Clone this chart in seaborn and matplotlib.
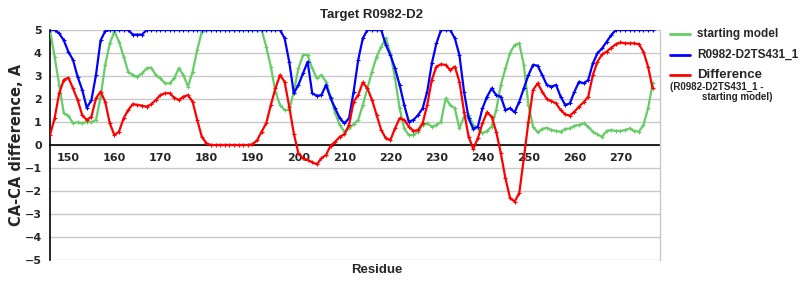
import numpy as np
import pandas as pd
import matplotlib
matplotlib.use("Agg")
import matplotlib.pyplot as plt
import seaborn as sns
from matplotlib.lines import Line2D

residues = list(range(146, 278))

starting_model = [
    5.0, 3.84, 2.6, 1.38, 1.28, 0.94, 0.99, 0.94, 1.01, 0.99,   # 146-155
    1.09, 2.1, 3.48, 4.42, 4.93, 4.5, 3.84, 3.19, 3.04, 2.97,   # 156-165
    3.12, 3.33, 3.36, 3.04, 2.9, 2.68, 2.68, 2.9, 3.33, 3.04,   # 166-175
    2.54, 3.19, 4.13, 4.93, 5.0, 5.0, 5.0, 5.0, 5.0, 5.0,       # 176-185
    5.0, 5.0, 5.0, 5.0, 5.0, 5.0, 5.0, 4.28, 3.41, 2.32,        # 186-195
    1.74, 1.52, 1.52, 2.32, 3.33, 3.91, 3.91, 3.33, 2.9, 3.04,  # 196-205
    2.75, 2.1, 1.38, 0.87, 0.58, 0.72, 0.9, 1.09, 1.74, 2.46,   # 206-215
    3.19, 3.84, 4.28, 4.64, 3.99, 2.9, 1.59, 0.72, 0.43, 0.43,  # 216-225
    0.58, 0.87, 0.94, 0.8, 0.87, 1.01, 2.03, 1.74, 1.59, 0.72,  # 226-235
    1.23, 1.3, 0.87, 0.72, 0.51, 0.61, 0.8, 1.52, 2.61, 3.33,   # 236-245
    4.0, 4.35, 4.42, 3.48, 1.74, 0.8, 0.55, 0.7, 0.75, 0.65,    # 246-255
    0.61, 0.58, 0.7, 0.72, 0.84, 0.87, 0.94, 0.8, 0.58, 0.46,   # 256-265
    0.36, 0.61, 0.65, 0.61, 0.61, 0.65, 0.72, 0.61, 0.58, 0.87, # 266-275
    1.59, 2.68,                                                 # 276-277
]

model_ts431 = [
    5.0, 5.0, 4.85, 4.55, 4.05, 3.7, 2.97, 2.4, 1.62, 1.95,     # 146-155
    3.05, 4.55, 4.95, 5.0, 5.0, 5.0, 5.0, 5.0, 4.8, 4.8,        # 156-165
    4.8, 5.0, 5.0, 5.0, 5.0, 5.0, 5.0, 5.0, 5.0, 5.0,           # 166-175
    5.0, 5.0, 5.0, 5.0, 5.0, 5.0, 5.0, 5.0, 5.0, 5.0,           # 176-185
    5.0, 5.0, 5.0, 5.0, 5.0, 5.0, 5.0, 5.0, 5.0, 5.0,           # 186-195
    5.0, 4.64, 3.62, 2.25, 2.61, 3.12, 3.62, 2.25, 2.14, 2.17,  # 196-205
    2.61, 2.03, 1.59, 1.16, 0.94, 1.16, 2.32, 3.7, 4.64, 5.0,   # 206-215
    5.0, 5.0, 5.0, 4.35, 3.91, 3.33, 2.61, 1.74, 1.01, 1.09,    # 216-225
    1.3, 1.59, 2.32, 3.55, 4.42, 5.0, 5.0, 5.0, 4.64, 3.91,     # 226-235
    2.32, 1.16, 0.7, 0.8, 1.59, 2.1, 2.46, 2.17, 2.1, 1.52,     # 236-245
    1.6, 1.42, 1.88, 2.46, 3.04, 3.48, 3.45, 3.04, 2.61, 2.54,  # 246-255
    2.61, 2.1, 1.74, 1.81, 2.32, 2.75, 2.68, 2.83, 3.55, 3.99,  # 256-265
    4.2, 4.49, 4.78, 5.0, 5.0, 5.0, 5.0, 5.0, 5.0, 5.0,         # 266-275
    5.0, 5.0,                                                   # 276-277
]

difference = [
    0.43, 1.16, 2.25, 2.83, 2.93, 2.46, 1.96, 1.3, 1.09, 1.23,  # 146-155
    2.03, 2.32, 1.88, 0.94, 0.43, 0.58, 1.16, 1.52, 1.78, 1.74, # 156-165
    1.71, 1.67, 1.77, 1.96, 2.17, 2.25, 2.25, 2.06, 1.96, 2.1,  # 166-175
    2.17, 1.88, 1.09, 0.36, 0.07, 0.0, 0.0, 0.0, 0.0, 0.0,      # 176-185
    0.0, 0.0, 0.0, 0.0, 0.03, 0.2, 0.58, 0.94, 1.74, 2.46,      # 186-195
    3.04, 2.75, 1.67, 0.5, -0.36, -0.58, -0.65, -0.75, -0.84, -0.58,  # 196-205
    -0.43, -0.03, 0.14, 0.36, 0.46, 0.87, 1.88, 2.17, 2.72, 2.46,     # 206-215
    1.96, 1.3, 0.65, 0.29, 0.22, 0.72, 1.16, 1.09, 0.8, 0.61,   # 216-225
    0.65, 0.94, 1.74, 2.83, 3.41, 3.51, 3.48, 3.26, 3.41, 2.75, # 226-235
    1.45, 0.36, -0.17, 0.29, 0.94, 1.42, 1.23, 0.58, -0.36, -1.45,    # 236-245
    -2.3, -2.46, -2.1, -0.58, 1.01, 2.39, 2.68, 2.32, 2.0, 1.91,      # 246-255
    1.81, 1.52, 1.33, 1.28, 1.45, 1.67, 1.86, 2.1, 3.04, 3.62,  # 256-265
    3.94, 4.06, 4.23, 4.38, 4.46, 4.42, 4.42, 4.42, 4.38, 4.06, # 266-275
    3.41, 2.46,                                                 # 276-277
]

x_ticks = [150, 160, 170, 180, 190, 200, 210, 220, 230, 240, 250, 260, 270]
y_ticks = [-5, -4, -3, -2, -1, 0, 1, 2, 3, 4, 5]

labels = ["starting model", "R0982-D2TS431_1", "Difference"]
colors = ["#66cc66", "#0000ff", "#ff0000"]

sns.set_style("white")
plt.rcParams['font.family'] = ['DejaVu Sans']

fig = plt.figure(figsize=(8, 3), dpi=100)
ax = fig.add_axes([50 / 800, 40 / 300, 610 / 800, 230 / 300])

for series, color in zip([starting_model, model_ts431, difference], colors):
    sns.lineplot(x=residues, y=series, color=color, ax=ax, linewidth=1.6,
                 marker='+', markersize=2.2, markeredgewidth=0.8,
                 markeredgecolor=color, zorder=3)

ax.set_xlim(146, 278.6)
ax.set_ylim(-5, 5)
ax.set_xticks(x_ticks)
ax.set_yticks(y_ticks)
ax.set_yticklabels([f"{v}".replace("-", "\u2212") for v in y_ticks])

ax.grid(axis='y', color='#c8c8c8', linewidth=1)
ax.grid(axis='x', visible=False)
ax.set_axisbelow(True)

ax.spines['top'].set_visible(False)
ax.spines['right'].set_color('#c8c8c8')
ax.spines['right'].set_linewidth(1)
ax.spines['left'].set_color('black')
ax.spines['left'].set_linewidth(1.2)
ax.spines['bottom'].set_position(('data', 0))
ax.spines['bottom'].set_color('black')
ax.spines['bottom'].set_linewidth(1.2)
ax.spines['bottom'].set_zorder(2)

ax.tick_params(axis='x', direction='out', length=3, width=0.8, color='#b0b0b0',
               labelsize=8, pad=3)
ax.tick_params(axis='y', length=0, labelsize=8, pad=6)
for lbl in ax.get_xticklabels() + ax.get_yticklabels():
    lbl.set_fontweight('bold')

ax.set_xlabel("")
ax.set_ylabel("CA-CA difference, A", fontsize=10.5, fontweight='bold',
              family='DejaVu Sans')
ax.yaxis.set_label_coords(-26 / 610, 0.5)
fig.text(377 / 800, 1 - 270 / 300, "Residue", ha='center', va='center',
         fontsize=9.5, fontweight='bold', family='Liberation Sans')
fig.text(372 / 800, 1 - 15 / 300, "Target R0982-D2", ha='center', va='center',
         fontsize=9.5, fontweight='bold', family='Liberation Sans')

# legend
leg_y = [34, 55, 75]
leg_size = [8.5, 8.5, 9.5]
for lab, color, yy, fs in zip(labels, colors, leg_y, leg_size):
    yf = 1 - yy / 300
    fig.add_artist(Line2D([670 / 800, 690 / 800], [yf, yf], color=color,
                          linewidth=2, transform=fig.transFigure))
    fig.text(697 / 800, yf, lab, ha='left', va='center', fontsize=fs,
             fontweight='bold', family='Liberation Sans')
fig.text(670 / 800, 1 - 87 / 300, "(R0982-D2TS431_1 -", ha='left', va='center',
         fontsize=7, fontweight='bold', family='Liberation Sans')
fig.text(702 / 800, 1 - 97 / 300, "starting model)", ha='left', va='center',
         fontsize=7, fontweight='bold', family='Liberation Sans')

fig.savefig("out.png", dpi=100)
